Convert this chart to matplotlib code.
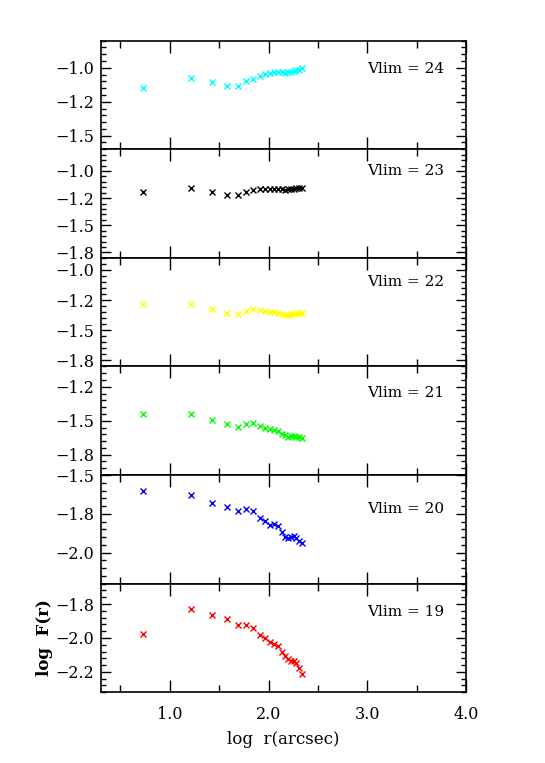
import matplotlib
matplotlib.use('Agg')
import matplotlib.pyplot as plt
import matplotlib.ticker as mt

plt.rcParams['font.family'] = ['DejaVu Serif']

# log r (arcsec), shared by all panels
log_r = [0.73, 1.21, 1.43, 1.58, 1.69, 1.775, 1.845, 1.91, 1.965, 2.015,
         2.06, 2.10, 2.135, 2.17, 2.20, 2.23, 2.255, 2.28, 2.305, 2.335]

vlim = [24, 23, 22, 21, 20, 19]

f24 = [-1.146, -1.075, -1.105, -1.131, -1.134, -1.097, -1.080, -1.058, -1.044, -1.036,
       -1.031, -1.031, -1.034, -1.036, -1.034, -1.029, -1.024, -1.019, -1.014, -1.005]
f23 = [-1.193, -1.160, -1.193, -1.218, -1.224, -1.190, -1.172, -1.166, -1.166, -1.166,
       -1.166, -1.169, -1.169, -1.172, -1.169, -1.166, -1.163, -1.160, -1.157, -1.154]
f22 = [-1.283, -1.286, -1.324, -1.355, -1.369, -1.341, -1.327, -1.333, -1.341, -1.349,
       -1.349, -1.355, -1.369, -1.374, -1.374, -1.369, -1.363, -1.360, -1.358, -1.355]
f21 = [-1.451, -1.448, -1.495, -1.521, -1.543, -1.524, -1.519, -1.536, -1.551, -1.563,
       -1.568, -1.575, -1.595, -1.607, -1.617, -1.614, -1.612, -1.617, -1.622, -1.627]
f20 = [-1.602, -1.631, -1.681, -1.705, -1.733, -1.720, -1.733, -1.777, -1.798, -1.820,
       -1.818, -1.829, -1.870, -1.896, -1.905, -1.900, -1.891, -1.905, -1.922, -1.940]
f19 = [-1.970, -1.785, -1.829, -1.861, -1.906, -1.908, -1.930, -1.977, -2.002, -2.029,
       -2.046, -2.056, -2.103, -2.133, -2.155, -2.172, -2.172, -2.187, -2.219, -2.268]

series = [f24, f23, f22, f21, f20, f19]
colors = ['cyan', 'black', 'yellow', 'lime', 'blue', 'red']
ylims = [(-1.6, -0.8), (-1.8, -0.8), (-1.8, -0.9), (-1.9, -1.1), (-2.2, -1.5), (-2.4, -1.6)]
label_y = [0.737, 0.80, 0.782, 0.754, 0.687, 0.739]

fig, axes = plt.subplots(6, 1, figsize=(5.45, 7.63), dpi=100, sharex=True)
fig.subplots_adjust(left=0.1848, right=0.855, top=0.9467, bottom=0.0927, hspace=0)

fmt = mt.FuncFormatter(lambda v, p: ('%.1f' % v).replace('-', '\u2212'))

for ax, y, c, yl, v, ty in zip(axes, series, colors, ylims, vlim, label_y):
    ax.plot(log_r, y, 'x', color=c, ms=5, mew=1)
    ax.set_xlim(0.3, 4.0)
    ax.set_ylim(*yl)
    ax.xaxis.set_major_locator(mt.MultipleLocator(1.0))
    ax.xaxis.set_minor_locator(mt.MultipleLocator(0.5))
    ax.yaxis.set_major_locator(mt.MultipleLocator(0.25))
    ax.yaxis.set_minor_locator(mt.MultipleLocator(0.05))
    ax.yaxis.set_major_formatter(fmt)
    ax.tick_params(which='both', direction='in', top=True, right=True, labelsize=11.5, width=1)
    ax.tick_params(axis='x', which='major', length=8.5, pad=10)
    ax.tick_params(axis='x', which='minor', length=5)
    ax.tick_params(axis='y', which='major', length=7.5, pad=5)
    ax.tick_params(axis='y', which='minor', length=3.8)
    for s in ax.spines.values():
        s.set_linewidth(1.2)
    ax.text(0.729, ty, 'Vlim = %d' % v, transform=ax.transAxes, fontsize=11,
            ha='left', va='center')

bot = axes[-1]
bot.xaxis.set_major_formatter(mt.FormatStrFormatter('%.1f'))
bot.set_xlabel('log  r(arcsec)', fontsize=12)
bot.xaxis.set_label_coords(0.5, -0.36)
bot.set_ylabel('log  F(r)', fontsize=12, fontweight='bold')
bot.yaxis.set_label_coords(-0.13, 0.5)

fig.savefig('out.png', dpi=100)
